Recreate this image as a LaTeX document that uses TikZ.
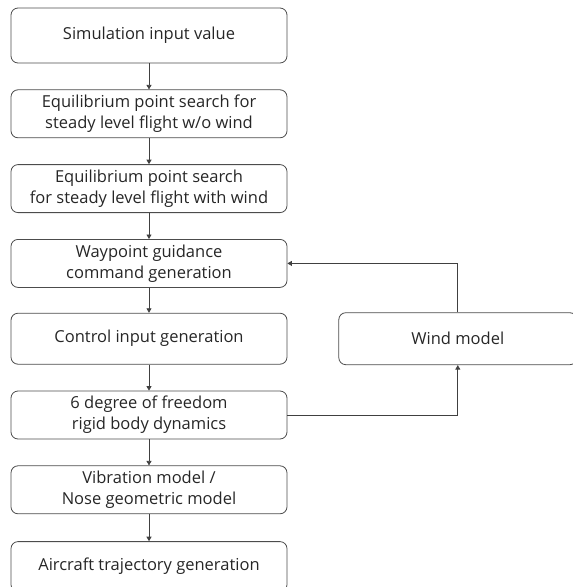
\documentclass[tikz,border=0pt]{standalone}
\usepackage{fontspec}
\setmainfont{Open Sans}
\usepackage{tikz}
\usetikzlibrary{arrows.meta, positioning}

\begin{document}
\begin{tikzpicture}[
    node distance=26pt,
    box/.style={draw=black!70, line width=0.8pt, rounded corners=7pt, align=center,
                font=\fontsize{16.5}{21}\selectfont, minimum width=276pt, minimum height=48pt,
                inner sep=2pt, text=black!85},
    arr/.style={-{Triangle[length=4.5pt, width=5pt]}, line width=0.8pt, black!75}]
  \useasboundingbox (0,0) rectangle (573pt,-587pt);
  \node[box, minimum height=55pt] (input) at (149pt,-35.5pt) {Simulation input value};
  \node[box, below=of input] (eqnowind) {Equilibrium point search for\\ steady level flight w/o wind};
  \node[box, below=of eqnowind] (eqwind) {Equilibrium point search\\ for steady level flight with wind};
  \node[box, below=of eqwind] (guid) {Waypoint guidance\\ command generation};
  \node[box, below=25pt of guid, minimum height=51pt] (ctrl) {Control input generation};
  \node[box, below=of ctrl] (dof) {6 degree of freedom\\ rigid body dynamics};
  \node[box, below=of dof] (vib) {Vibration model /\\ Nose geometric model};
  \node[box, below=27pt of vib, minimum height=50pt] (traj) {Aircraft trajectory generation};
  \node[box, right=51pt of ctrl, minimum width=238pt, minimum height=52pt] (wind) {Wind model};
  \foreach \a/\b in {input/eqnowind, eqnowind/eqwind, eqwind/guid, guid/ctrl,
                     ctrl/dof, dof/vib, vib/traj}
    \draw[arr] (\a) -- (\b);
  % wind loop
  \draw[arr] (dof.east) -| (wind.south);
  \draw[arr] (wind.north) |- (guid.east);
\end{tikzpicture}
\end{document}
